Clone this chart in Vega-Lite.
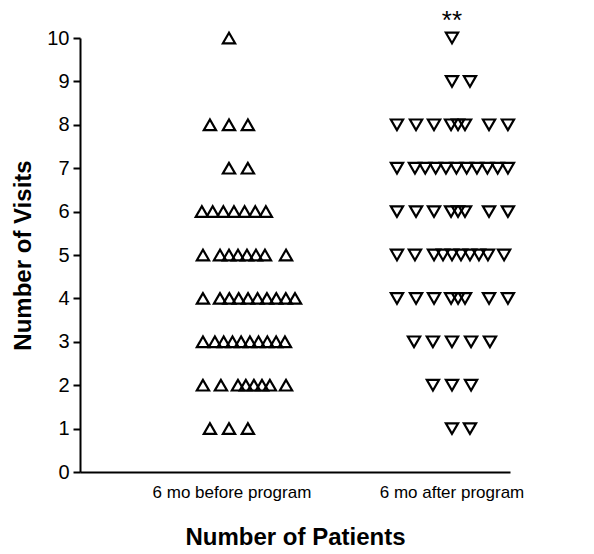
{
  "$schema": "https://vega.github.io/schema/vega-lite/v6.json",
  "width": 430,
  "height": 434,
  "autosize": {"type": "none"},
  "padding": {"left": 80, "top": 38, "right": 84, "bottom": 82},
  "background": "white",
  "config": {
    "view": {"stroke": null},
    "font": "Liberation Sans",
    "axis": {"domainColor": "black", "domainWidth": 2, "tickColor": "black", "tickWidth": 2, "labelColor": "black", "titleColor": "black", "labelFont": "Liberation Sans", "titleFont": "Liberation Sans", "grid": false}
  },
  "datasets": {
    "pts": [
      {"g": "6 mo before program", "v": 10, "o": -0.16},
      {"g": "6 mo before program", "v": 8, "o": -1.2},
      {"g": "6 mo before program", "v": 8, "o": -0.16},
      {"g": "6 mo before program", "v": 8, "o": 0.87},
      {"g": "6 mo before program", "v": 7, "o": -0.16},
      {"g": "6 mo before program", "v": 7, "o": 0.87},
      {"g": "6 mo before program", "v": 6, "o": -1.64},
      {"g": "6 mo before program", "v": 6, "o": -1.05},
      {"g": "6 mo before program", "v": 6, "o": -0.47},
      {"g": "6 mo before program", "v": 6, "o": 0.11},
      {"g": "6 mo before program", "v": 6, "o": 0.69},
      {"g": "6 mo before program", "v": 6, "o": 1.27},
      {"g": "6 mo before program", "v": 6, "o": 1.85},
      {"g": "6 mo before program", "v": 5, "o": -1.58},
      {"g": "6 mo before program", "v": 5, "o": -0.65},
      {"g": "6 mo before program", "v": 5, "o": -0.16},
      {"g": "6 mo before program", "v": 5, "o": 0.33},
      {"g": "6 mo before program", "v": 5, "o": 0.82},
      {"g": "6 mo before program", "v": 5, "o": 1.31},
      {"g": "6 mo before program", "v": 5, "o": 1.8},
      {"g": "6 mo before program", "v": 5, "o": 2.95},
      {"g": "6 mo before program", "v": 4, "o": -1.58},
      {"g": "6 mo before program", "v": 4, "o": -0.65},
      {"g": "6 mo before program", "v": 4, "o": -0.14},
      {"g": "6 mo before program", "v": 4, "o": 0.37},
      {"g": "6 mo before program", "v": 4, "o": 0.88},
      {"g": "6 mo before program", "v": 4, "o": 1.4},
      {"g": "6 mo before program", "v": 4, "o": 1.91},
      {"g": "6 mo before program", "v": 4, "o": 2.42},
      {"g": "6 mo before program", "v": 4, "o": 2.94},
      {"g": "6 mo before program", "v": 4, "o": 3.44},
      {"g": "6 mo before program", "v": 3, "o": -1.58},
      {"g": "6 mo before program", "v": 3, "o": -0.93},
      {"g": "6 mo before program", "v": 3, "o": -0.45},
      {"g": "6 mo before program", "v": 3, "o": 0.03},
      {"g": "6 mo before program", "v": 3, "o": 0.5},
      {"g": "6 mo before program", "v": 3, "o": 0.98},
      {"g": "6 mo before program", "v": 3, "o": 1.45},
      {"g": "6 mo before program", "v": 3, "o": 1.93},
      {"g": "6 mo before program", "v": 3, "o": 2.41},
      {"g": "6 mo before program", "v": 3, "o": 2.89},
      {"g": "6 mo before program", "v": 2, "o": -1.58},
      {"g": "6 mo before program", "v": 2, "o": -0.6},
      {"g": "6 mo before program", "v": 2, "o": 0.33},
      {"g": "6 mo before program", "v": 2, "o": 0.76},
      {"g": "6 mo before program", "v": 2, "o": 1.2},
      {"g": "6 mo before program", "v": 2, "o": 1.64},
      {"g": "6 mo before program", "v": 2, "o": 2.07},
      {"g": "6 mo before program", "v": 2, "o": 2.95},
      {"g": "6 mo before program", "v": 1, "o": -1.2},
      {"g": "6 mo before program", "v": 1, "o": -0.16},
      {"g": "6 mo before program", "v": 1, "o": 0.87},
      {"g": "6 mo after program", "v": 10, "o": 0},
      {"g": "6 mo after program", "v": 9, "o": 0},
      {"g": "6 mo after program", "v": 9, "o": 0.98},
      {"g": "6 mo after program", "v": 8, "o": -3.0},
      {"g": "6 mo after program", "v": 8, "o": -1.96},
      {"g": "6 mo after program", "v": 8, "o": -0.98},
      {"g": "6 mo after program", "v": 8, "o": -0.05},
      {"g": "6 mo after program", "v": 8, "o": 0.33},
      {"g": "6 mo after program", "v": 8, "o": 0.71},
      {"g": "6 mo after program", "v": 8, "o": 2.02},
      {"g": "6 mo after program", "v": 8, "o": 3.05},
      {"g": "6 mo after program", "v": 7, "o": -3.0},
      {"g": "6 mo after program", "v": 7, "o": -2.02},
      {"g": "6 mo after program", "v": 7, "o": -1.46},
      {"g": "6 mo after program", "v": 7, "o": -0.89},
      {"g": "6 mo after program", "v": 7, "o": -0.33},
      {"g": "6 mo after program", "v": 7, "o": 0.24},
      {"g": "6 mo after program", "v": 7, "o": 0.8},
      {"g": "6 mo after program", "v": 7, "o": 1.36},
      {"g": "6 mo after program", "v": 7, "o": 1.93},
      {"g": "6 mo after program", "v": 7, "o": 2.49},
      {"g": "6 mo after program", "v": 7, "o": 3.05},
      {"g": "6 mo after program", "v": 6, "o": -3.0},
      {"g": "6 mo after program", "v": 6, "o": -1.96},
      {"g": "6 mo after program", "v": 6, "o": -0.98},
      {"g": "6 mo after program", "v": 6, "o": -0.05},
      {"g": "6 mo after program", "v": 6, "o": 0.33},
      {"g": "6 mo after program", "v": 6, "o": 0.71},
      {"g": "6 mo after program", "v": 6, "o": 2.02},
      {"g": "6 mo after program", "v": 6, "o": 3.05},
      {"g": "6 mo after program", "v": 5, "o": -3.0},
      {"g": "6 mo after program", "v": 5, "o": -2.02},
      {"g": "6 mo after program", "v": 5, "o": -0.98},
      {"g": "6 mo after program", "v": 5, "o": -0.49},
      {"g": "6 mo after program", "v": 5, "o": 0},
      {"g": "6 mo after program", "v": 5, "o": 0.49},
      {"g": "6 mo after program", "v": 5, "o": 0.98},
      {"g": "6 mo after program", "v": 5, "o": 1.47},
      {"g": "6 mo after program", "v": 5, "o": 1.96},
      {"g": "6 mo after program", "v": 5, "o": 2.84},
      {"g": "6 mo after program", "v": 4, "o": -3.0},
      {"g": "6 mo after program", "v": 4, "o": -1.96},
      {"g": "6 mo after program", "v": 4, "o": -0.98},
      {"g": "6 mo after program", "v": 4, "o": -0.05},
      {"g": "6 mo after program", "v": 4, "o": 0.33},
      {"g": "6 mo after program", "v": 4, "o": 0.71},
      {"g": "6 mo after program", "v": 4, "o": 2.02},
      {"g": "6 mo after program", "v": 4, "o": 3.05},
      {"g": "6 mo after program", "v": 3, "o": -2.07},
      {"g": "6 mo after program", "v": 3, "o": -1.04},
      {"g": "6 mo after program", "v": 3, "o": 0},
      {"g": "6 mo after program", "v": 3, "o": 1.04},
      {"g": "6 mo after program", "v": 3, "o": 2.07},
      {"g": "6 mo after program", "v": 2, "o": -1.04},
      {"g": "6 mo after program", "v": 2, "o": 0},
      {"g": "6 mo after program", "v": 2, "o": 1.04},
      {"g": "6 mo after program", "v": 1, "o": 0},
      {"g": "6 mo after program", "v": 1, "o": 0.98}
    ],
    "notes": [
      {"g": "6 mo after program", "v": 10.4, "o": 0, "label": "**"}
    ]
  },
  "layer": [
    {
      "data": {"name": "pts"},
      "mark": {"type": "point", "filled": false, "strokeWidth": 2.2, "size": 150, "opacity": 1},
      "encoding": {
        "x": {
          "field": "g", "type": "nominal", "sort": ["6 mo before program", "6 mo after program"],
          "scale": {"domain": ["6 mo before program", "6 mo after program"], "paddingInner": 0.5, "paddingOuter": 0.227, "align": 0.97},
          "axis": {"title": "Number of Patients", "labelAngle": 0, "ticks": false, "labelFontSize": 17, "labelPadding": 12, "titleFontSize": 24, "titleFontWeight": "bold", "titlePadding": 25}
        },
        "xOffset": {"field": "o", "type": "quantitative", "scale": {"domain": [-3, 3]}},
        "y": {
          "field": "v", "type": "quantitative",
          "scale": {"domain": [0, 10], "nice": false, "zero": true},
          "axis": {"title": "Number of Visits", "values": [0,1,2,3,4,5,6,7,8,9,10], "tickSize": 7, "labelFontSize": 20, "labelPadding": 4, "titleFontSize": 24, "titleFontWeight": "bold", "titlePadding": 11}
        },
        "shape": {"field": "g", "type": "nominal", "scale": {"domain": ["6 mo before program", "6 mo after program"], "range": ["triangle-up", "triangle-down"]}, "legend": null},
        "color": {"value": "black"}
      }
    },
    {
      "data": {"name": "notes"},
      "mark": {"type": "text", "fontSize": 26, "baseline": "middle", "align": "center", "color": "black"},
      "encoding": {
        "x": {"field": "g", "type": "nominal", "sort": ["6 mo before program", "6 mo after program"]},
        "xOffset": {"field": "o", "type": "quantitative", "scale": {"domain": [-3, 3]}},
        "y": {"field": "v", "type": "quantitative"},
        "text": {"field": "label"}
      }
    }
  ]
}
